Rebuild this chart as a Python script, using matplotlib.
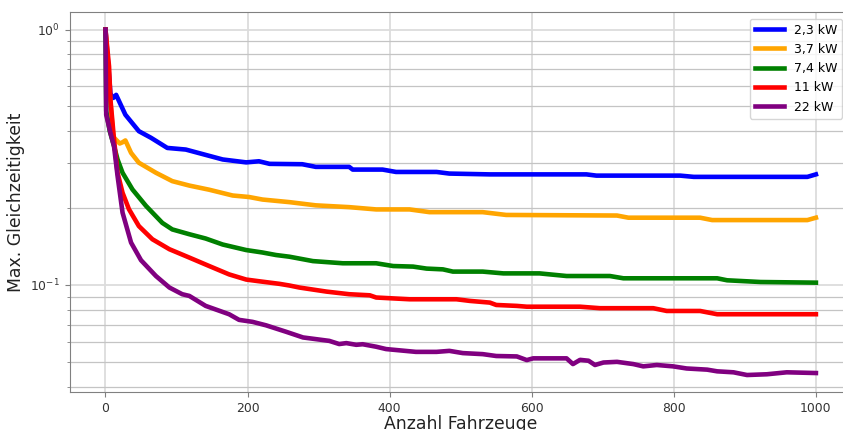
import matplotlib
matplotlib.use("Agg")
import matplotlib.pyplot as plt

# Anzahl Fahrzeuge / Max. Gleichzeitigkeit je Ladeleistung
x_23 = [0, 7, 11, 15, 28, 47, 64, 87, 113, 165, 198, 216, 231, 277, 296, 343, 348,
        390, 409, 466, 484, 541, 677, 691, 809, 828, 988, 1000]
y_23 = [1.0, 0.56, 0.54, 0.555, 0.464, 0.400, 0.377, 0.344, 0.339, 0.310, 0.302,
        0.305, 0.298, 0.297, 0.290, 0.290, 0.283, 0.283, 0.277, 0.277, 0.273, 0.271,
        0.271, 0.268, 0.268, 0.265, 0.265, 0.271]

x_37 = [0, 5, 11, 20, 24, 28, 36, 47, 71, 94, 118, 146, 179, 202, 221, 259, 296,
        343, 381, 428, 456, 531, 564, 720, 736, 837, 854, 988, 1000]
y_37 = [1.0, 0.6, 0.38, 0.358, 0.362, 0.368, 0.329, 0.301, 0.275, 0.255, 0.245,
        0.236, 0.224, 0.221, 0.216, 0.211, 0.205, 0.2017, 0.1976, 0.1976, 0.1928,
        0.1928, 0.188, 0.187, 0.1834, 0.1834, 0.1795, 0.1795, 0.1834]

x_74 = [0, 1, 6, 12, 17, 24, 38, 57, 80, 94, 118, 141, 165, 198, 221, 240, 259,
        292, 334, 381, 405, 433, 452, 475, 489, 531, 560, 611, 649, 710, 729, 861,
        875, 922, 1000]
y_74 = [1.0, 0.48, 0.40, 0.35, 0.31, 0.275, 0.2365, 0.204, 0.175, 0.165, 0.158,
        0.152, 0.144, 0.137, 0.134, 0.131, 0.129, 0.124, 0.1216, 0.1216, 0.1186,
        0.118, 0.1159, 0.1151, 0.1128, 0.1128, 0.111, 0.111, 0.1084, 0.1084,
        0.1062, 0.1062, 0.1043, 0.1027, 0.1021]

x_11 = [0, 5, 7, 12, 17, 24, 33, 47, 66, 90, 118, 146, 174, 198, 215, 245, 259,
        273, 311, 343, 372, 381, 428, 494, 513, 541, 550, 579, 593, 668, 696, 771,
        790, 837, 861, 1000]
y_11 = [1.0, 0.717, 0.531, 0.371, 0.275, 0.2297, 0.198, 0.170, 0.151, 0.138,
        0.128, 0.1186, 0.110, 0.105, 0.1035, 0.101, 0.0995, 0.0977, 0.0942, 0.092,
        0.0911, 0.0893, 0.0879, 0.0879, 0.0866, 0.0853, 0.0835, 0.0828, 0.0822,
        0.0822, 0.0811, 0.0811, 0.0791, 0.0791, 0.0768, 0.0768]

x_22 = [0, 1, 7, 12, 17, 24, 36, 50, 71, 90, 108, 118, 141, 174, 188, 207, 226,
        254, 278, 315, 329, 339, 353, 362, 381, 395, 437, 466, 484, 503, 531, 550,
        579, 593, 602, 625, 649, 658, 668, 680, 689, 701, 720, 743, 757, 776, 799,
        818, 847, 861, 884, 903, 931, 959, 1000]
y_22 = [1.0, 0.464, 0.394, 0.349, 0.267, 0.192, 0.1465, 0.125, 0.1084, 0.0977,
        0.092, 0.0906, 0.0828, 0.0768, 0.073, 0.0717, 0.0695, 0.0656, 0.0623,
        0.0604, 0.0587, 0.0592, 0.0583, 0.0586, 0.0573, 0.0561, 0.0547, 0.0547,
        0.0552, 0.0541, 0.0536, 0.0527, 0.0525, 0.0508, 0.0516, 0.0516, 0.0516,
        0.0490, 0.0509, 0.0505, 0.0486, 0.0497, 0.0500, 0.0490, 0.0480, 0.0486,
        0.0480, 0.0471, 0.0466, 0.0459, 0.0455, 0.0444, 0.0447, 0.0455, 0.0452]

labels = ["2,3 kW", "3,7 kW", "7,4 kW", "11 kW", "22 kW"]
colors = ["blue", "orange", "green", "red", "purple"]

fig = plt.figure(figsize=(8.43, 4.30), dpi=100)
# Achse reicht rechts ueber den Bildrand hinaus (wie im Original beschnitten)
ax = fig.add_axes([0.083, 0.0877, 0.927, 0.8837])

series = [(x_23, y_23), (x_37, y_37), (x_74, y_74), (x_11, y_11), (x_22, y_22)]
for (xs, ys), lab, col in zip(series, labels, colors):
    ax.plot(xs, ys, color=col, lw=3.3, label=lab)

ax.set_yscale("log")
ax.set_xlim(-50, 1050)
ax.set_xticks([0, 200, 400, 600, 800, 1000])

# Gitter fuer Haupt- und Nebenteilung
ax.grid(which="major", color="#dcdcdc", lw=1.3)
ax.grid(which="minor", color="#c4c4c4", lw=0.9)
ax.set_axisbelow(True)

for sp in ax.spines.values():
    sp.set_color("#808080")
ax.spines["right"].set_visible(False)
ax.tick_params(which="both", colors="#808080", labelcolor="#333333", labelsize=8.9)

ax.set_xlabel("Anzahl Fahrzeuge", fontsize=12.4, color="#222222", labelpad=0)
ax.set_ylabel("Max. Gleichzeitigkeit", fontsize=12.4, color="#222222")

ax.legend(loc="upper right", bbox_to_anchor=(0.996, 1.0), fontsize=9,
          handlelength=2.3, framealpha=0.8)

fig.savefig("out.png", dpi=100)
